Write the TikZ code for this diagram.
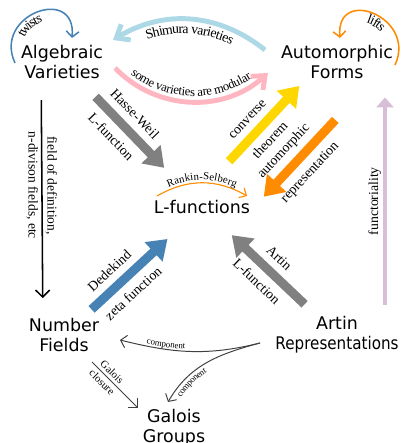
\documentclass[tikz,border=0pt]{standalone}
\usepackage{fontspec}
\setmainfont{Liberation Serif}
\newfontfamily\boxfont{DejaVu Sans}
\usetikzlibrary{arrows.meta,calc,decorations.text}

\definecolor{steelblue}{RGB}{70,130,180}
\definecolor{lightblue}{RGB}{173,216,230}
\definecolor{lightpink}{RGB}{255,182,193}
\definecolor{gold}{RGB}{255,215,0}
\definecolor{darkorange}{RGB}{255,140,0}
\definecolor{thistle}{RGB}{216,191,216}
\definecolor{midgray}{RGB}{128,128,128}
\definecolor{wiregray}{RGB}{64,64,64}

\newcommand{\lblfont}{\fontsize{9.8}{11}\selectfont}
\newcommand{\smlfont}{\fontsize{7.6}{9}\selectfont}
\newcommand{\tnyfont}{\fontsize{6.3}{7.5}\selectfont}

\tikzset{
  term/.style={font=\boxfont\fontsize{12.4}{14.2}\selectfont, align=center, inner sep=2pt},
  bigarrow/.style={line width=6.4pt, -{Triangle[length=13.5pt,width=18pt]}},
  bowarrow/.style={line width=3.5pt, -{Straight Barb[length=8pt,width=13pt]}},
  wire/.style={line width=0.7pt, -{Straight Barb[length=4pt,width=9pt]}},
  lab/.style={font=\lblfont, text=black, inner sep=1pt, sloped},
}

\begin{document}
\begin{tikzpicture}[x=0.025cm,y=0.025cm]
    \useasboundingbox (0,0) rectangle (404,443);

    % the objects
    \node[term] (AV) at (62,381) {Algebraic\\Varieties};
    \node[term] (AF) at (337,381) {Automorphic\\Forms};
    \node[term] (L) at (202,236) {L-functions};
    \node[term] (NF) at (64,108) {Number\\Fields};
    \node[term] (AR) at (337,108) {Artin\\\scalebox{0.87}[1]{Representations}};
    \node[term] (GG) at (174,15) {Galois\\Groups};

    % self loops on the top row
    \draw[steelblue, line width=1.1pt, -{Straight Barb[length=4pt,width=9pt]},
      postaction={decorate, decoration={text along path, text align={left indent=23pt},
      raise=-8pt, text={|\color{black}\lblfont|twists}}}]
      ($(AV)+(-47,-1)$) to[out=115, in=85, looseness=2.2] ($(AV)+(10,24)$);
    \draw[darkorange, line width=1.1pt, -{Straight Barb[length=4pt,width=9pt]},
      postaction={decorate, decoration={text along path, reverse path, text align={left indent=35pt},
      raise=-8pt, text={|\color{black}\lblfont|lifts}}}]
      ($(AF)+(58,-3)$) to[out=65, in=95, looseness=2.2] ($(AF)+(3,24)$);

    % curved arrows between the top row
    \draw[bowarrow, lightblue,
      postaction={decorate, decoration={text along path, reverse path, text align=center,
      raise=-10pt, text={|\color{black}\lblfont|Shimura varieties}}}]
      ($(AF)+(-72,12)$) to[bend right=35] ($(AV)+(51,22)$);
    \draw[bowarrow, lightpink,
      postaction={decorate, decoration={text along path, text align=center,
      raise=4pt, text={|\color{black}\fontsize{9}{10}\selectfont|some varieties are modular}}}]
      ($(AV)+(53,-6)$) to[bend right=44] ($(AF)+(-69,-11)$);

    % fat arrows round the L-functions
    \draw[bigarrow, midgray] ($(AV)!0.24!(L)$) -- ($(AV)!0.73!(L)$)
        node[lab, above=4pt, pos=0.4] {Hasse-Weil}
        node[lab, below=4pt, pos=0.4] {L-function};
    \draw[bigarrow, gold] ($(L)!0.26!(AF)+(-8,8)$) -- ($(L)!0.78!(AF)+(-8,8)$)
        node[lab, above=4pt, pos=0.42] {converse}
        node[lab, below=3pt, pos=0.42] {theorem};
    \draw[bigarrow, darkorange] ($(AF)!0.22!(L)+(28,-26)$) -- ($(AF)!0.75!(L)+(28,-26)$)
        node[lab, above=3pt, pos=0.55] {automorphic}
        node[lab, below=4pt, pos=0.53] {representation};
    \draw[bigarrow, steelblue] ($(NF)!0.2!(L)$) -- ($(NF)!0.75!(L)$)
        node[lab, above=4pt, pos=0.38] {Dedekind}
        node[lab, below=4pt, pos=0.4] {zeta function};
    \draw[bigarrow, midgray] ($(AR)!0.24!(L)$) -- ($(AR)!0.78!(L)$)
        node[lab, above=4pt, midway] {Artin}
        node[lab, below=4pt, midway] {L-function};

    % Rankin-Selberg
    \draw[darkorange, line width=0.8pt, -{Straight Barb[length=4pt,width=8pt]},
      postaction={decorate, decoration={text along path, text align=center,
      raise=2pt, text={|\color{black}\smlfont|Rankin-Selberg}}}]
      ($(L)+(-45,11)$) to[bend left=30] ($(L)+(45,11)$);

    % side arrows
    \draw[black, line width=1.1pt, -{Straight Barb[length=5pt,width=10pt]}]
      ($(AV)!0.14!(NF)+(-21,0)$) -- ($(AV)!0.865!(NF)+(-21,0)$)
        node[pos=0.43, rotate=-90, align=center, font=\fontsize{9.6}{13.5}\selectfont]
        {field of definition,\\n-divison fields, etc};
    \draw[thistle, line width=3.5pt, -{Triangle[length=7pt,width=12pt]}]
      ($(AR)!0.11!(AF)+(48,0)$) -- ($(AR)!0.87!(AF)+(48,0)$)
        node[lab, above=0pt, midway] {functoriality};

    % bottom row
    \draw[wiregray, wire,
      postaction={decorate, decoration={text along path, reverse path, text align={left indent=19pt},
      raise=1.5pt, text={|\color{black}\tnyfont|component}}}]
      ($(AR)+(-77,-8)$) to[out=194, in=-14] ($(NF)+(56,-5)$);
    \draw[wiregray, wire,
      postaction={decorate, decoration={text along path, reverse path, text align={left indent=8pt},
      raise=-6pt, text={|\color{black}\tnyfont|component}}}]
      ($(AR)+(-77,-8)$) to[out=195, in=60] ($(GG)+(-6,26)$);
    \draw[wiregray, line width=0.7pt, -{Straight Barb[length=5pt,width=10pt]}]
      ($(NF)+(28,-27)$) -- ($(GG)+(-36,20)$)
        node[lab, above=1pt, pos=0.33, font=\smlfont] {Galois}
        node[lab, below=1pt, pos=0.33, font=\smlfont] {closure};
\end{tikzpicture}
\end{document}
